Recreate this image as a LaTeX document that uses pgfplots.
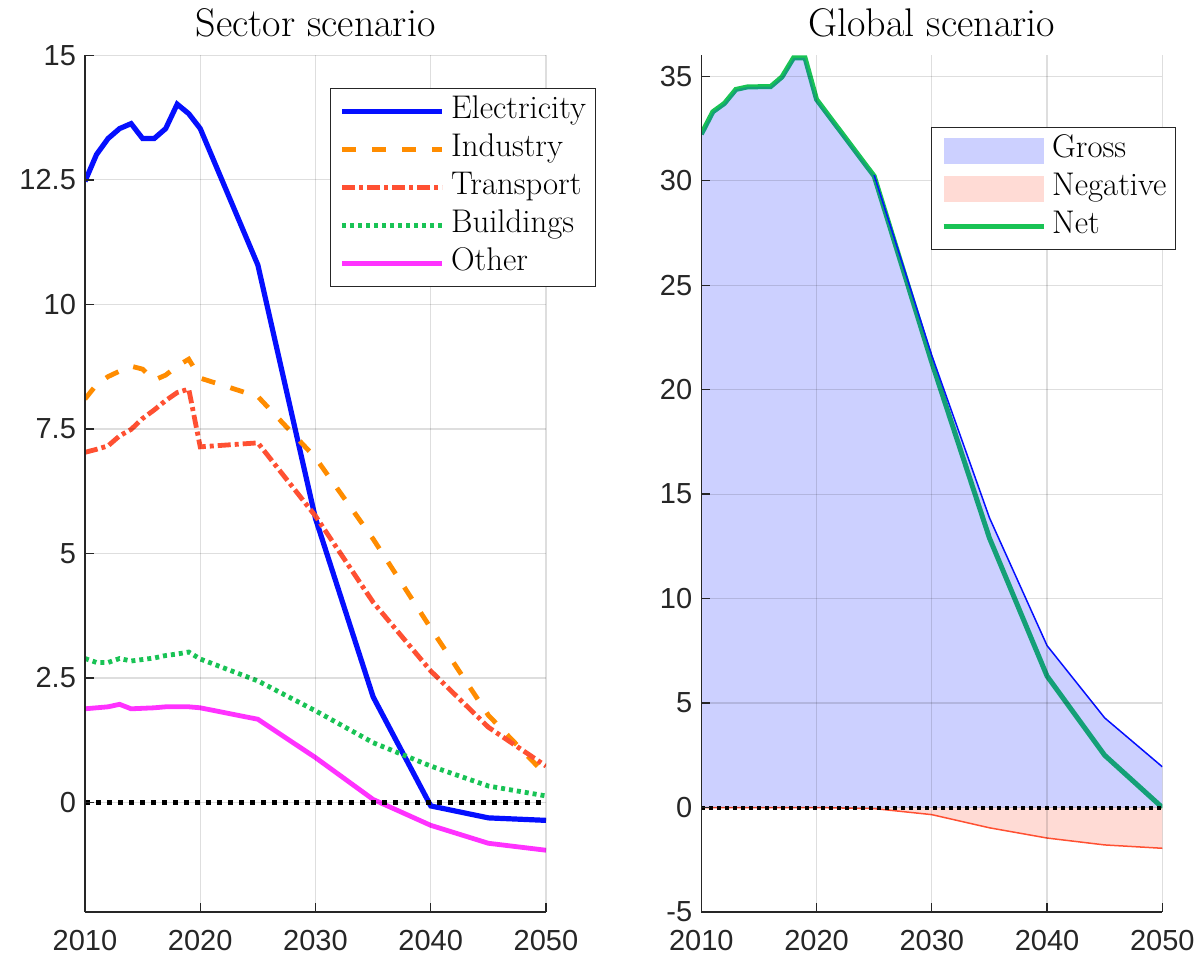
\documentclass[border=0pt]{standalone}
\usepackage{fontspec}
\usepackage{pgfplots}
\pgfplotsset{compat=1.18}
\newfontfamily\tickfont{Liberation Sans}
\definecolor{cElec}{RGB}{5,15,255}
\definecolor{cInd}{RGB}{255,140,0}
\definecolor{cTra}{RGB}{255,80,50}
\definecolor{cBui}{RGB}{25,195,85}
\definecolor{cOth}{RGB}{255,50,255}
\definecolor{cNet}{RGB}{25,195,85}
\definecolor{cGrossFill}{RGB}{0,20,255}
\definecolor{cNegFill}{RGB}{255,75,45}
\definecolor{axgray}{RGB}{38,38,38}
\pgfplotsset{
  base/.style={
    scale only axis, width=230.5pt, height=428.3pt,
    axis x line*=bottom, axis y line*=left,
    axis line style={axgray, line width=0.65pt},
    tick align=inside, major tick length=4.5pt,
    tick style={axgray, line width=0.65pt},
    xmin=2010, xmax=2050, xtick={2010,2020,2030,2040,2050},
    grid=major, grid style={black, opacity=0.13, line width=0.6pt},
    axis on top,
    /pgf/number format/assume math mode=true,
    /pgf/number format/1000 sep={},
    ticklabel style={font=\tickfont\fontsize{14.5}{17}\selectfont, text=axgray},
    xticklabel style={yshift=-5.5pt},
    yticklabel style={xshift=-1pt},
    title style={font=\fontsize{20}{24}\selectfont, anchor=base, at={(0.5,1)}, yshift=3.35pt},
    legend cell align=left,
    legend style={font=\fontsize{16.4}{19}\selectfont, draw=axgray, line width=0.5pt,
      inner xsep=4.6pt, inner ysep=4pt, row sep=4pt, column sep=3pt,
      nodes={inner sep=0pt, text height=11pt, text depth=4pt}},
    legend image code/.code={\draw[#1] (0pt,0pt) -- (50pt,0pt);},
  }
}
\begin{document}
\begin{tikzpicture}
\useasboundingbox (0,0) rectangle (599pt,479pt);
\begin{axis}[base, at={(42.5pt,23pt)}, anchor=south west,
  ymin=-2.2, ymax=15, ytick={0,2.5,5,7.5,10,12.5,15},
  title={Sector scenario},
  legend style={at={(1.108,0.962)}, anchor=north east}]
\addplot[cElec, line width=2.6pt] coordinates {
(2010,12.47) (2011,13.01) (2012,13.33) (2013,13.53) (2014,13.63) (2015,13.33) (2016,13.33) (2017,13.53) (2018,14.02) (2019,13.83) (2020,13.53) (2025,10.79) (2030,5.7) (2035,2.12) (2040,-0.07) (2045,-0.31) (2050,-0.36)};
\addlegendentry{Electricity}
\addplot[cInd, line width=2.4pt, dash pattern=on 7pt off 8pt] coordinates {
(2010,8.10) (2011,8.39) (2012,8.55) (2013,8.66) (2014,8.76) (2015,8.70) (2016,8.48) (2017,8.58) (2018,8.76) (2019,8.90) (2020,8.52) (2025,8.15) (2030,6.92) (2035,5.29) (2040,3.5) (2045,1.75) (2050,0.55)};
\addlegendentry{Industry}
\addplot[cTra, line width=2.4pt, dash pattern=on 6.5pt off 2pt on 2pt off 2pt] coordinates {
(2010,7.03) (2011,7.09) (2012,7.16) (2013,7.36) (2014,7.49) (2015,7.71) (2016,7.88) (2017,8.07) (2018,8.23) (2019,8.30) (2020,7.14) (2025,7.22) (2030,5.75) (2035,4.02) (2040,2.64) (2045,1.51) (2050,0.73)};
\addlegendentry{Transport}
\addplot[cBui, line width=2.4pt, dash pattern=on 2pt off 2pt] coordinates {
(2010,2.89) (2011,2.81) (2012,2.81) (2013,2.89) (2014,2.84) (2015,2.87) (2016,2.90) (2017,2.95) (2018,2.98) (2019,3.02) (2020,2.88) (2025,2.44) (2030,1.84) (2035,1.2) (2040,0.73) (2045,0.33) (2050,0.13)};
\addlegendentry{Buildings}
\addplot[cOth, line width=2.4pt] coordinates {
(2010,1.88) (2011,1.90) (2012,1.92) (2013,1.97) (2014,1.88) (2015,1.89) (2016,1.90) (2017,1.92) (2018,1.92) (2019,1.92) (2020,1.90) (2025,1.67) (2030,0.9) (2035,0.06) (2040,-0.46) (2045,-0.82) (2050,-0.96)};
\addlegendentry{Other}
\addplot[black, line width=2.5pt, dash pattern=on 2.5pt off 3pt, forget plot] coordinates {(2010,0) (2050,0)};
\end{axis}

\begin{axis}[base, at={(350.65pt,23pt)}, anchor=south west,
  ymin=-5, ymax=36, ytick={-5,0,5,10,15,20,25,30,35},
  title={Global scenario},
  legend style={at={(1.03,0.916)}, anchor=north east}]
\addplot[cNet, line width=2.5pt, forget plot] coordinates {
(2010,32.23) (2011,33.3) (2012,33.7) (2013,34.37) (2014,34.49) (2015,34.5) (2016,34.5) (2017,34.97) (2018,35.88) (2019,35.88) (2020,33.89) (2025,30.22) (2030,21.3) (2035,12.9) (2040,6.29) (2045,2.5) (2050,0.0)};
\addplot[draw=none, fill=cGrossFill, fill opacity=0.2,
  legend image code/.code={\fill[cGrossFill, fill opacity=0.2] (0pt,-6.5pt) rectangle (50pt,6.5pt);}] coordinates {
(2010,0) (2010,32.23) (2011,33.3) (2012,33.7) (2013,34.37) (2014,34.49) (2015,34.5) (2016,34.5) (2017,34.97) (2018,35.88) (2019,35.88) (2020,33.89) (2025,30.27) (2030,21.64) (2035,13.87) (2040,7.75) (2045,4.29) (2050,1.95) (2050,0)} \closedcycle;
\addlegendentry{Gross}
\addplot[draw=none, fill=cNegFill, fill opacity=0.2,
  legend image code/.code={\fill[cNegFill, fill opacity=0.2] (0pt,-6.5pt) rectangle (50pt,6.5pt);}] coordinates {
(2010,0) (2020,0) (2025,-0.05) (2030,-0.34) (2035,-0.97) (2040,-1.46) (2045,-1.79) (2050,-1.95) (2050,0)} \closedcycle;
\addlegendentry{Negative}
\addplot[cElec, line width=0.75pt, forget plot] coordinates {
(2025,30.27) (2030,21.64) (2035,13.87) (2040,7.75) (2045,4.29) (2050,1.95)};
\addplot[cTra, line width=0.75pt, forget plot] coordinates {
(2010,0) (2020,0) (2025,-0.05) (2030,-0.34) (2035,-0.97) (2040,-1.46) (2045,-1.79) (2050,-1.95)};
\addplot[black, line width=2pt, dash pattern=on 2pt off 2pt, forget plot] coordinates {(2010,0) (2050,0)};
\addlegendimage{cNet, line width=2.5pt}
\addlegendentry{Net}
\end{axis}
\end{tikzpicture}
\end{document}
